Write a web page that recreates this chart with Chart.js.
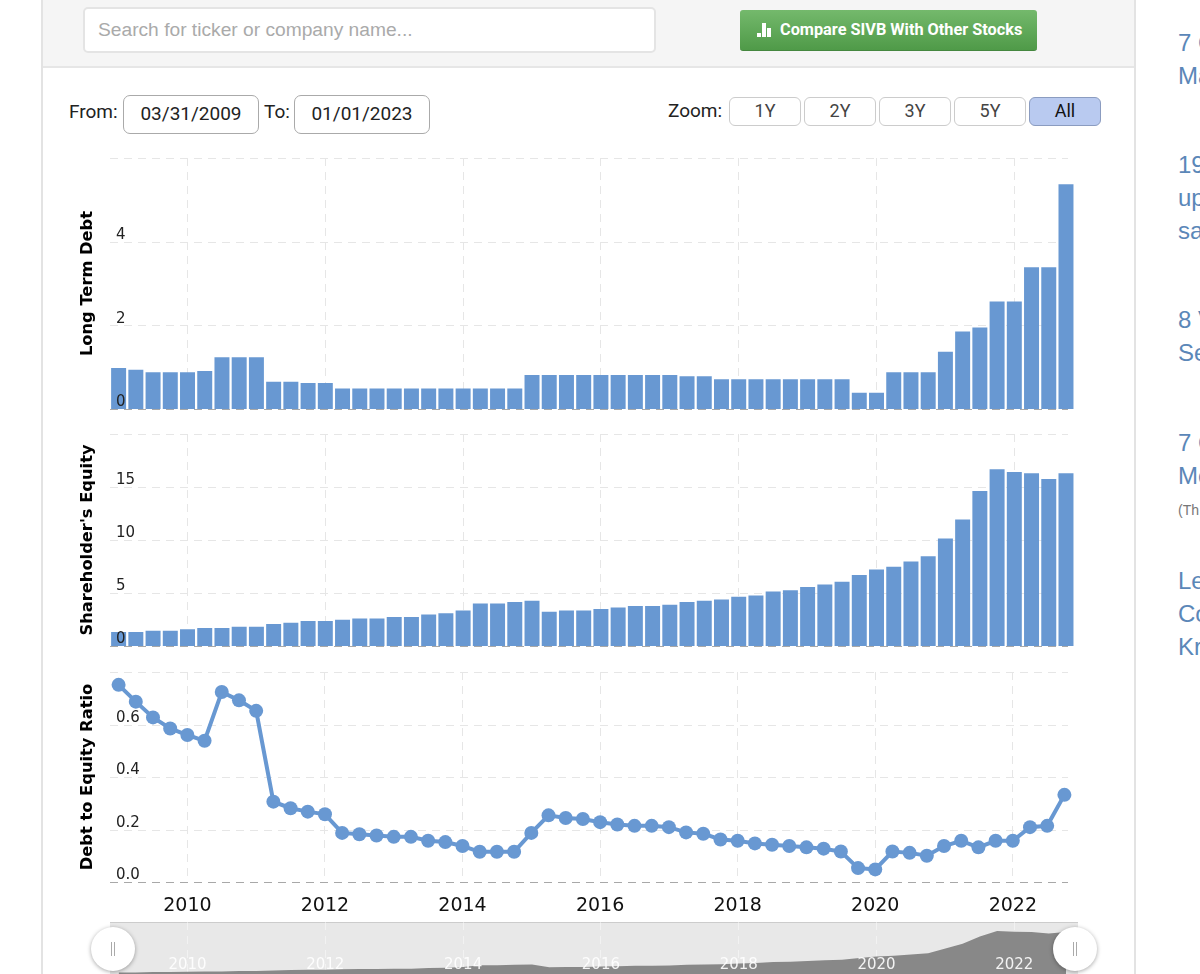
<!DOCTYPE html>
<html lang="en">
<head>
    <meta charset="UTF-8">
    <meta name="viewport" content="width=device-width, initial-scale=1.0">
    <title>SIVB Debt to Equity Ratio</title>
    <script src="https://cdn.jsdelivr.net/npm/chart.js"></script>
    <style>
        html, body { margin: 0; padding: 0; background: #fff; }
        body { position: relative; width: 1200px; height: 974px; overflow: hidden; font-family: Roboto, sans-serif; color: #222; }
        .abs { position: absolute; box-sizing: border-box; }
        canvas { position: absolute; left: 70px; }
        #panel { left: 41px; top: -2px; width: 1095px; height: 990px; border: 1px solid #e3e3e3; border-width: 0 2px; }
        #header { left: 43px; top: 0; width: 1091px; height: 68px; background: #f5f5f5; border-bottom: 2px solid #e6e6e6; }
        #search { left: 83px; top: 7px; width: 573px; height: 46px; background: #fff; border: 2px solid #e4e4e4; border-radius: 5px; font: 19.2px "Liberation Sans", sans-serif; color: #aaa; line-height: 42px; padding-left: 13px; }
        #compare { left: 740px; top: 10px; width: 297px; height: 41px; border-radius: 3px; background: linear-gradient(#74b96c, #4f9a48); border-bottom: 1px solid #45873f; color: #fff; font: bold 16.3px Roboto, sans-serif; line-height: 40px; padding-left: 40px; }
        .iconbar { position: absolute; background: #fff; width: 4px; bottom: 13px; }
        .label { font-size: 19px; line-height: 24px; }
        .dateinput { top: 95px; width: 136px; height: 39px; border: 1px solid #aaa; border-radius: 7px; text-align: center; font-size: 19px; line-height: 36px; }
        .zoombtn { top: 97px; width: 72px; height: 29px; border: 1px solid #ccc; border-radius: 6px; text-align: center; font-size: 18px; line-height: 26px; color: #444; }
        .active { background: #b9caf0; border-color: #8b9cc0; color: #111; }
        #navback { left: 110px; top: 922px; width: 968px; height: 60px; background: #e8e8e8; border-top: 1px solid #ccc; }
        .handle { top: 927px; width: 44px; height: 44px; border-radius: 50%; background: #fff; box-shadow: 0 1px 4px rgba(0,0,0,.35); }
        .handle i { position: absolute; top: 15px; width: 1px; height: 14px; background: #aaa; }
        .side { left: 1178px; font: 24px "Liberation Sans", sans-serif; line-height: 33px; color: #5b87b8; white-space: nowrap; }
    </style>
</head>
<body>
    <div class="abs" id="panel"></div>
    <div class="abs" id="header"></div>
    <div class="abs" id="search">Search for ticker or company name...</div>
    <div class="abs" id="compare">
        <span class="iconbar" style="left:17px;height:4px"></span>
        <span class="iconbar" style="left:22px;height:14px"></span>
        <span class="iconbar" style="left:27px;height:9px"></span>
        Compare SIVB With Other Stocks
    </div>

    <div class="abs label" style="left:69px;top:100px">From:</div>
    <div class="abs dateinput" style="left:123px">03/31/2009</div>
    <div class="abs label" style="left:264px;top:100px">To:</div>
    <div class="abs dateinput" style="left:294px">01/01/2023</div>

    <div class="abs label" style="left:668px;top:99px">Zoom:</div>
    <div class="abs zoombtn" style="left:729px">1Y</div>
    <div class="abs zoombtn" style="left:804px">2Y</div>
    <div class="abs zoombtn" style="left:879px">3Y</div>
    <div class="abs zoombtn" style="left:954px">5Y</div>
    <div class="abs zoombtn active" style="left:1029px">All</div>

    <div class="abs side" style="top:26px">7 C<br>Ma</div>
    <div class="abs side" style="top:148px">19<br>up<br>sa</div>
    <div class="abs side" style="top:303px">8 V<br>Se</div>
    <div class="abs side" style="top:426px">7 C<br>Me</div>
    <div class="abs side" style="top:500px;font-size:14px;line-height:20px;color:#777">(Th</div>
    <div class="abs side" style="top:564px">Le<br>Co<br>Kr</div>

    <canvas id="debtChart" width="1010" height="265" style="top:150px"></canvas>
    <canvas id="equityChart" width="1010" height="226" style="top:426px"></canvas>
    <canvas id="ratioChart" width="1010" height="255" style="top:664px"></canvas>

    <div class="abs" id="navback"></div>
    <canvas id="navChart" width="1010" height="54" style="top:922px"></canvas>
    <div class="abs handle" style="left:91px"><i style="left:20px"></i><i style="left:23px"></i></div>
    <div class="abs handle" style="left:1053px"><i style="left:20px"></i><i style="left:23px"></i></div>

    <script>
        // quarter ends, one per bar / point
        const categories = [
            '2008-12', '2009-03', '2009-06', '2009-09', '2009-12', '2010-03', '2010-06', '2010-09',
            '2010-12', '2011-03', '2011-06', '2011-09', '2011-12', '2012-03', '2012-06', '2012-09',
            '2012-12', '2013-03', '2013-06', '2013-09', '2013-12', '2014-03', '2014-06', '2014-09',
            '2014-12', '2015-03', '2015-06', '2015-09', '2015-12', '2016-03', '2016-06', '2016-09',
            '2016-12', '2017-03', '2017-06', '2017-09', '2017-12', '2018-03', '2018-06', '2018-09',
            '2018-12', '2019-03', '2019-06', '2019-09', '2019-12', '2020-03', '2020-06', '2020-09',
            '2020-12', '2021-03', '2021-06', '2021-09', '2021-12', '2022-03', '2022-06', '2022-09'
        ];
        const tickCategories = ['2009-12', '2011-12', '2013-12', '2015-12', '2017-12', '2019-12', '2021-12'];
        const tickLabels = ['2010', '2012', '2014', '2016', '2018', '2020', '2022'];

        const longTermDebt = [
            0.98, 0.94, 0.88, 0.88, 0.88, 0.91, 1.24, 1.24,
            1.24, 0.65, 0.65, 0.62, 0.62, 0.49, 0.49, 0.49,
            0.49, 0.49, 0.49, 0.49, 0.49, 0.49, 0.49, 0.49,
            0.81, 0.81, 0.81, 0.81, 0.81, 0.81, 0.81, 0.81,
            0.81, 0.78, 0.78, 0.71, 0.71, 0.71, 0.71, 0.71,
            0.71, 0.71, 0.71, 0.39, 0.39, 0.88, 0.88, 0.88,
            1.37, 1.85, 1.95, 2.57, 2.57, 3.39, 3.39, 5.37
        ];
        const shareholdersEquity = [
            1.32, 1.32, 1.44, 1.44, 1.57, 1.69, 1.69, 1.82,
            1.82, 2.07, 2.20, 2.35, 2.35, 2.48, 2.60, 2.60,
            2.73, 2.73, 2.98, 3.10, 3.36, 4.02, 4.02, 4.14,
            4.27, 3.23, 3.36, 3.36, 3.49, 3.64, 3.77, 3.77,
            3.89, 4.14, 4.27, 4.39, 4.65, 4.77, 5.15, 5.27,
            5.56, 5.81, 6.06, 6.69, 7.22, 7.47, 7.97, 8.47,
            10.14, 11.93, 14.63, 16.67, 16.42, 16.29, 15.76, 16.29
        ];
        const debtToEquity = [
            0.751, 0.687, 0.627, 0.585, 0.560, 0.538, 0.724, 0.692,
            0.652, 0.306, 0.281, 0.268, 0.258, 0.187, 0.182, 0.177,
            0.172, 0.172, 0.157, 0.152, 0.137, 0.115, 0.115, 0.115,
            0.187, 0.254, 0.244, 0.240, 0.228, 0.219, 0.214, 0.214,
            0.209, 0.189, 0.184, 0.162, 0.157, 0.147, 0.142, 0.137,
            0.132, 0.127, 0.116, 0.053, 0.048, 0.116, 0.111, 0.100,
            0.137, 0.157, 0.132, 0.157, 0.157, 0.209, 0.214, 0.332
        ];

        const blue = '#6898d2';
        const gridColor = '#e6e6e6';
        const gridDash = [8, 6];

        // horizontal grid stops short of the last bar, so it is drawn here
        const shortGrid = {
            id: 'shortGrid',
            beforeDatasetsDraw(chart) { drawHLines(chart, false); },
            afterDatasetsDraw(chart) { drawHLines(chart, true); }
        };
        function drawHLines(chart, zeroLine) {
            const y = chart.scales.y;
            const ctx = chart.ctx;
            ctx.save();
            ctx.setLineDash(gridDash);
            ctx.lineWidth = 1;
            y.ticks.forEach(t => {
                if ((t.value === 0) !== zeroLine) return;
                const py = Math.round(y.getPixelForValue(t.value)) + 0.5;
                ctx.strokeStyle = zeroLine ? '#a8a8a8' : gridColor;
                ctx.beginPath();
                ctx.moveTo(chart.chartArea.left, py);
                ctx.lineTo(998, py);
                ctx.stroke();
            });
            ctx.restore();
        }

        function xAxis(showLabels) {
            return {
                offset: true,
                grid: { offset: false, color: gridColor, drawTicks: false },
                border: { display: false, dash: gridDash },
                afterBuildTicks: scale => {
                    scale.ticks = tickCategories.map(c => ({ value: categories.indexOf(c) }));
                },
                afterFit: scale => { scale.height = showLabels ? 37 : 0; },
                ticks: {
                    display: showLabels,
                    autoSkip: false,
                    maxRotation: 0,
                    padding: 13,
                    color: '#111',
                    font: { family: 'DejaVu Sans', size: 19 },
                    callback: (value, index) => tickLabels[index]
                }
            };
        }

        function yAxis(title, max, step, digits) {
            return {
                min: 0,
                max: max,
                grid: { display: false },
                border: { display: false },
                afterFit: scale => {
                    scale.width = 40;
                    scale.paddingTop = 0;
                    scale.paddingBottom = 0;
                },
                title: {
                    display: true,
                    text: title,
                    color: '#000',
                    padding: { top: 8, bottom: 0 },
                    font: { family: 'DejaVu Sans', size: 16.3, weight: 'bold' }
                },
                ticks: {
                    mirror: true,
                    z: 1,
                    padding: 6,
                    labelOffset: -6.5,
                    stepSize: step,
                    color: '#222',
                    font: { family: 'DejaVu Sans', size: 15 },
                    callback: value => value === max ? '' : value.toFixed(digits)
                }
            };
        }

        function barChart(id, values, title, max, step, pad) {
            new Chart(document.getElementById(id), {
                type: 'bar',
                data: {
                    labels: categories,
                    datasets: [{ label: title, data: values, backgroundColor: blue, barPercentage: 0.87, categoryPercentage: 1 }]
                },
                options: {
                    responsive: false,
                    animation: false,
                    layout: { padding: pad },
                    plugins: { legend: { display: false }, tooltip: { enabled: false } },
                    scales: { x: xAxis(false), y: yAxis(title, max, step, 0) }
                },
                plugins: [shortGrid]
            });
        }

        barChart('debtChart', longTermDebt, 'Long Term Debt', 6, 2, { top: 8, right: 5.4, bottom: 6 });
        barChart('equityChart', shareholdersEquity, "Shareholder's Equity", 20, 5, { top: 8, right: 5.4, bottom: 6 });

        new Chart(document.getElementById('ratioChart'), {
            type: 'line',
            data: {
                labels: categories,
                datasets: [{
                    label: 'Debt to Equity Ratio',
                    data: debtToEquity,
                    borderColor: blue,
                    backgroundColor: blue,
                    borderWidth: 4,
                    pointRadius: 7,
                    pointBackgroundColor: blue,
                    pointBorderWidth: 0,
                    tension: 0
                }]
            },
            options: {
                responsive: false,
                animation: false,
                layout: { padding: { top: 8, right: 5.4 } },
                plugins: { legend: { display: false }, tooltip: { enabled: false } },
                scales: { x: xAxis(true), y: yAxis('Debt to Equity Ratio', 0.8, 0.2, 1) }
            },
            plugins: [shortGrid]
        });

        // navigator strip under the charts, same equity series
        const navX = xAxis(true);
        navX.afterFit = scale => { scale.height = 0; };
        navX.grid.color = 'rgba(255,255,255,0.45)';
        navX.ticks.mirror = true;
        navX.ticks.z = 1;
        navX.ticks.padding = 2;
        navX.ticks.color = 'rgba(255,255,255,0.9)';
        navX.ticks.font = { family: 'DejaVu Sans', size: 15 };
        new Chart(document.getElementById('navChart'), {
            type: 'line',
            data: {
                labels: categories,
                datasets: [{
                    label: 'Navigator',
                    data: shareholdersEquity,
                    borderWidth: 0,
                    pointRadius: 0,
                    fill: 'origin',
                    backgroundColor: '#888888'
                }]
            },
            options: {
                responsive: false,
                animation: false,
                layout: { padding: { left: 40, right: 5.4 } },
                plugins: { legend: { display: false }, tooltip: { enabled: false } },
                scales: { x: navX, y: { display: false, min: 0, max: 20 } }
            }
        });
    </script>
</body>
</html>
